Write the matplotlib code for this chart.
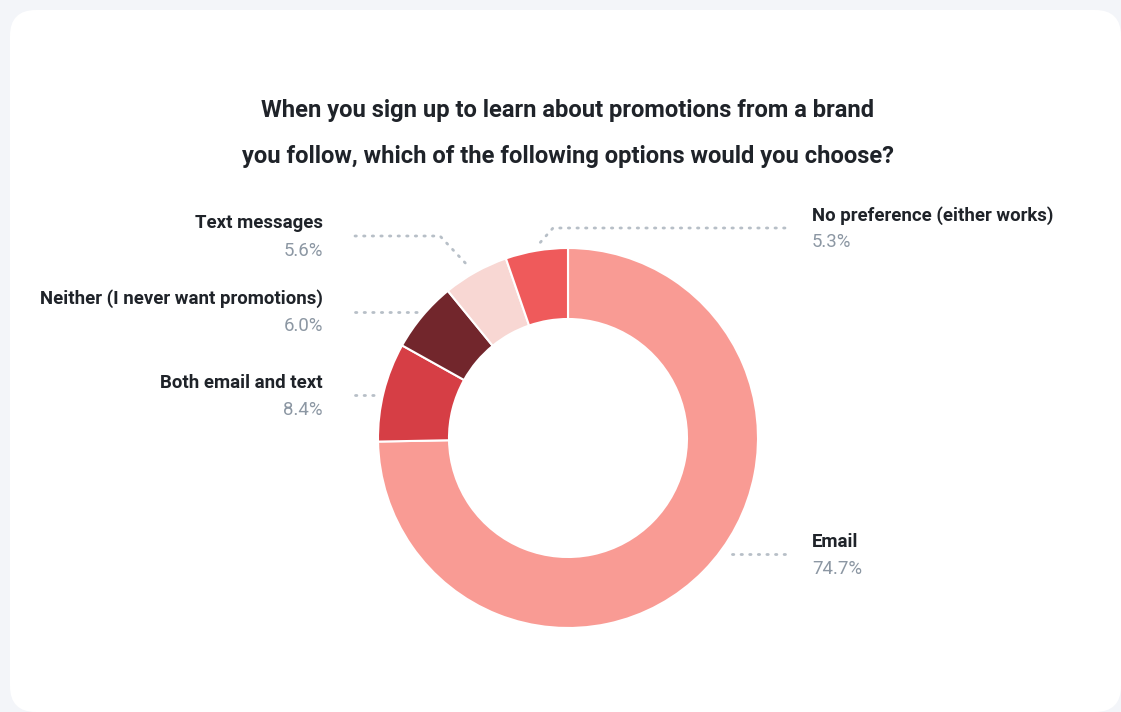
import matplotlib
matplotlib.use('Agg')
import matplotlib.pyplot as plt
from matplotlib.patches import FancyBboxPatch

W, H = 1121, 712

categories = ["Email", "Both email and text", "Neither (I never want promotions)",
              "Text messages", "No preference (either works)"]
shares = [74.7, 8.4, 6.0, 5.6, 5.3]
colors = ["#F99B94", "#D63E45", "#72262C", "#F8D7D3", "#EF5A5B"]

title = "When you sign up to learn about promotions from a brand\nyou follow, which of the following options would you choose?"

plt.rcParams['font.family'] = ['Roboto', 'DejaVu Sans']

fig = plt.figure(figsize=(W / 100, H / 100), dpi=100)
fig.patch.set_facecolor("#F3F5F9")
ax = fig.add_axes([0, 0, 1, 1])


def py(y):
    # pixel rows count from the top
    return H - y


# white card
card = FancyBboxPatch((10, py(712)), W - 10, 702, boxstyle="round,pad=0,rounding_size=26",
                      fc="white", ec="none", zorder=0)
ax.add_patch(card)

cx, cy = 568, py(438)
ax.pie(shares, colors=colors, startangle=90, counterclock=False, center=(cx, cy), radius=190,
       wedgeprops=dict(width=71, edgecolor="white", linewidth=1.5), frame=True)

ax.set_xlim(0, W)
ax.set_ylim(0, H)
ax.set_aspect('equal')
ax.axis('off')

for i, line in enumerate(title.split("\n")):
    ax.text(568, py(111 + 45 * i), line, ha="center", va="center", fontsize=17.1,
            fontweight="bold", color="#1F2329")

dot = dict(color="#B7BFC7", linewidth=2, linestyle=(0, (0.5, 2.6)), dash_capstyle="round")

# leader lines: (x, y) pixel paths from label to slice
leaders = {
    "Email": [(785, 554), (727, 554)],
    "Both email and text": [(355, 395), (380, 395)],
    "Neither (I never want promotions)": [(355, 312), (420, 312)],
    "Text messages": [(355, 236), (440, 236), (470, 268)],
    "No preference (either works)": [(785, 228), (553, 228), (538, 245)],
}
for pts in leaders.values():
    ax.plot([p[0] for p in pts], [py(p[1]) for p in pts], **dot)

# label anchors: x, name row, percent row, alignment
label_pos = {
    "Email": (812, 542, 569, "left"),
    "Both email and text": (323, 383, 410, "right"),
    "Neither (I never want promotions)": (323, 299, 326, "right"),
    "Text messages": (323, 223, 251, "right"),
    "No preference (either works)": (812, 216, 242, "left"),
}
for name, val in zip(categories, shares):
    x, y1, y2, ha = label_pos[name]
    ax.text(x, py(y1), name, ha=ha, va="center", fontsize=13.4, fontweight="bold", color="#1F2329")
    ax.text(x, py(y2), f"{val:.1f}%", ha=ha, va="center", fontsize=13.4, color="#8C97A3")

fig.savefig("out.png", dpi=100, facecolor=fig.get_facecolor())
